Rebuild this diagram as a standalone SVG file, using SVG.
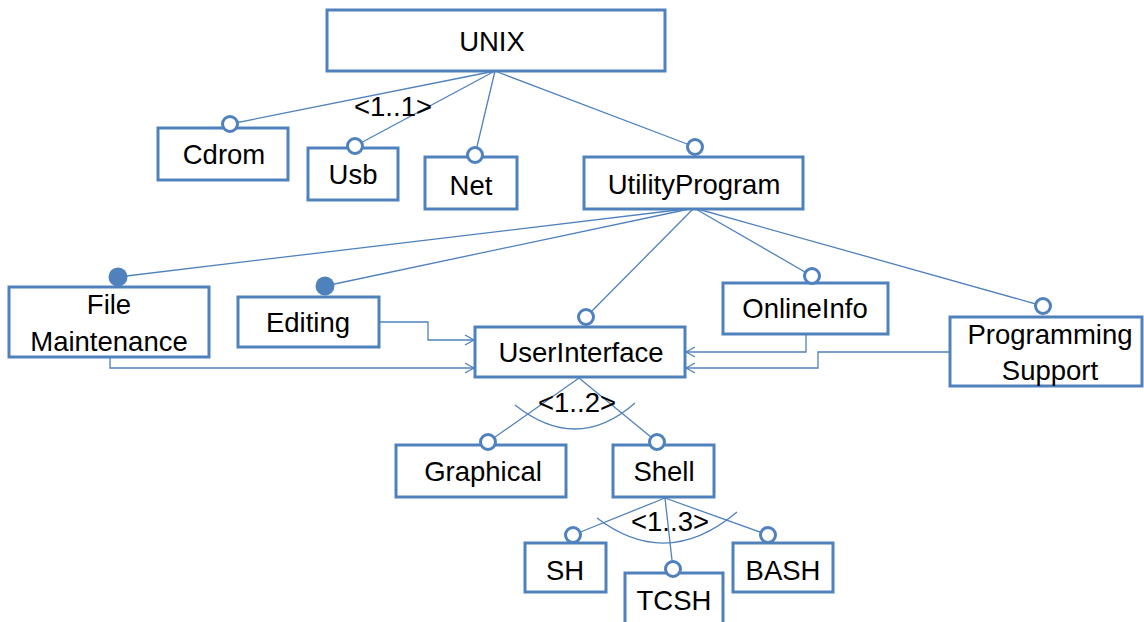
<svg xmlns="http://www.w3.org/2000/svg" width="1144" height="622" viewBox="0 0 1144 622">
<style>
.box{fill:#fff;stroke:#4F81BD;stroke-width:3}
.ln{fill:none;stroke:#4F81BD;stroke-width:1.3}
.ring{fill:#fff;stroke:#4F81BD;stroke-width:3}
.dot{fill:#4F81BD;stroke:none}
text{font-family:"Liberation Sans",Arial,sans-serif;font-size:27.5px;fill:#000;text-anchor:middle}
</style>
<defs>
<marker id="arr" markerWidth="12" markerHeight="12" refX="10" refY="6" orient="auto" markerUnits="userSpaceOnUse">
<path d="M1,1 L10,6 L1,11" fill="none" stroke="#4F81BD" stroke-width="1.3"/>
</marker>
</defs>
<g id="connectors">
<line class="ln" x1="495" y1="71" x2="230" y2="124"/>
<line class="ln" x1="495" y1="71" x2="355" y2="146"/>
<line class="ln" x1="495" y1="71" x2="475" y2="155"/>
<line class="ln" x1="495" y1="71" x2="695" y2="147"/>
<line class="ln" x1="694" y1="208" x2="118" y2="277"/>
<line class="ln" x1="694" y1="208" x2="325" y2="286"/>
<line class="ln" x1="694" y1="208" x2="586" y2="317"/>
<line class="ln" x1="694" y1="208" x2="812" y2="276"/>
<line class="ln" x1="694" y1="208" x2="1043" y2="306"/>
<polyline class="ln" points="110,357 110,368 474,368" marker-end="url(#arr)"/>
<polyline class="ln" points="379,322 428,322 428,340 474,340" marker-end="url(#arr)"/>
<polyline class="ln" points="806,334 806,352 686,352" marker-end="url(#arr)"/>
<polyline class="ln" points="950,352 818,352 818,368 686,368" marker-end="url(#arr)"/>
<line class="ln" x1="579" y1="378" x2="488" y2="442"/>
<line class="ln" x1="579" y1="378" x2="657" y2="442"/>
<path class="ln" d="M515,405 Q577,454 635,403"/>
<line class="ln" x1="665" y1="498" x2="573" y2="535"/>
<line class="ln" x1="665" y1="498" x2="673" y2="569"/>
<line class="ln" x1="665" y1="498" x2="768" y2="535"/>
<path class="ln" d="M597,518 Q667,571 737,512"/>
<text x="393" y="116">&lt;1..1&gt;</text>
<text x="577" y="412">&lt;1..2&gt;</text>
<text x="670" y="531">&lt;1..3&gt;</text>
</g>
<g id="n-unix"><rect class="box" x="327" y="10" width="338" height="61"/><text x="492" y="51">UNIX</text></g>
<g id="n-cdrom"><rect class="box" x="158" y="128" width="130" height="52"/><circle class="ring" cx="230" cy="124" r="7.5"/><text x="224" y="164">Cdrom</text></g>
<g id="n-usb"><rect class="box" x="308" y="148" width="90" height="52"/><circle class="ring" cx="355" cy="146" r="7.5"/><text x="353" y="184">Usb</text></g>
<g id="n-net"><rect class="box" x="425" y="157" width="92" height="52"/><circle class="ring" cx="475" cy="155" r="7.5"/><text x="471" y="195">Net</text></g>
<g id="n-utility"><rect class="box" x="584" y="157" width="219" height="52"/><circle class="ring" cx="695" cy="147" r="7.5"/><text x="694" y="194">UtilityProgram</text></g>
<g id="n-filemaint"><rect class="box" x="9" y="287" width="200" height="70"/><circle class="dot" cx="118" cy="277" r="9.5"/><text x="109" y="314">File</text><text x="109" y="351">Maintenance</text></g>
<g id="n-editing"><rect class="box" x="238" y="297" width="141" height="50"/><circle class="dot" cx="325" cy="286" r="9.5"/><text x="308" y="332">Editing</text></g>
<g id="n-userinterface"><rect class="box" x="475" y="327" width="210" height="50"/><circle class="ring" cx="586" cy="317" r="7.5"/><text x="581" y="362">UserInterface</text></g>
<g id="n-onlineinfo"><rect class="box" x="723" y="283" width="165" height="51"/><circle class="ring" cx="812" cy="276" r="7.5"/><text x="805" y="318">OnlineInfo</text></g>
<g id="n-progsupport"><rect class="box" x="950" y="317" width="192" height="69"/><circle class="ring" cx="1043" cy="306" r="7.5"/><text x="1050" y="344">Programming</text><text x="1050" y="380">Support</text></g>
<g id="n-graphical"><rect class="box" x="396" y="445" width="170" height="52"/><circle class="ring" cx="488" cy="442" r="7.5"/><text x="483" y="481">Graphical</text></g>
<g id="n-shell"><rect class="box" x="613" y="445" width="101" height="52"/><circle class="ring" cx="657" cy="442" r="7.5"/><text x="664" y="481">Shell</text></g>
<g id="n-sh"><rect class="box" x="525" y="543" width="81" height="49"/><circle class="ring" cx="573" cy="535" r="7.5"/><text x="565" y="580">SH</text></g>
<g id="n-tcsh"><rect class="box" x="625" y="573" width="98" height="60"/><circle class="ring" cx="673" cy="569" r="7.5"/><text x="674" y="610">TCSH</text></g>
<g id="n-bash"><rect class="box" x="733" y="543" width="100" height="49"/><circle class="ring" cx="768" cy="535" r="7.5"/><text x="783" y="580">BASH</text></g>
</svg>
